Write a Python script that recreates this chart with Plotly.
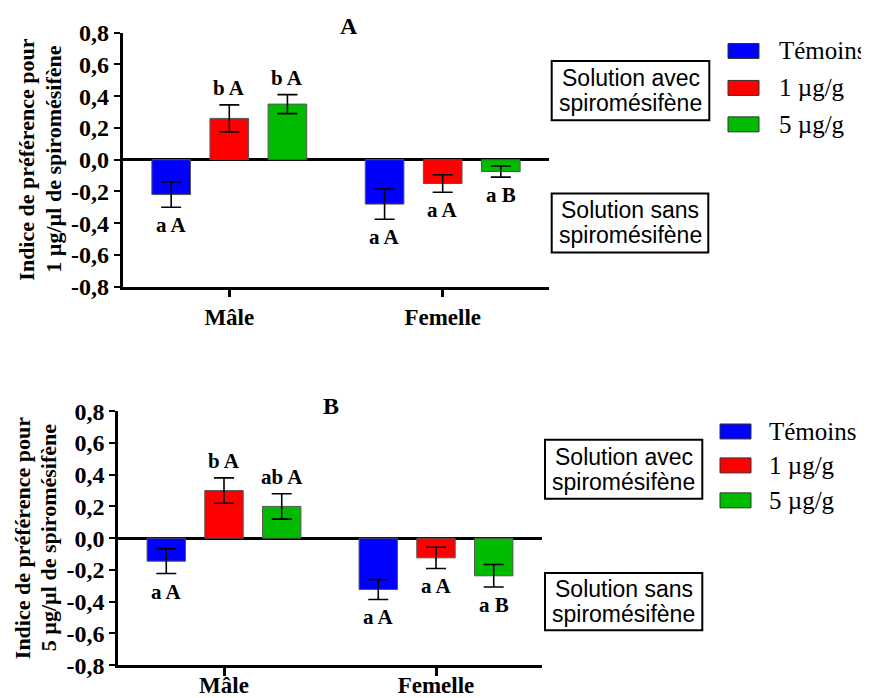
import plotly.graph_objects as go

W, H = 869, 698

categories = ["Mâle", "Femelle"]
series_names = ["Témoins", "1 µg/g", "5 µg/g"]
series_colors = ["#0000FF", "#FF0000", "#00BB00"]

# Panel A : 1 µg/µl
A_temoins = [-0.22, -0.28]
A_1ug = [0.26, -0.15]
A_5ug = [0.35, -0.075]
A_err_temoins = [0.08, 0.095]
A_err_1ug = [0.085, 0.055]
A_err_5ug = [0.06, 0.035]
A_lab_temoins = ["a A", "a A"]
A_lab_1ug = ["b A", "a A"]
A_lab_5ug = ["b A", "a B"]

# Panel B : 5 µg/µl
B_temoins = [-0.145, -0.323]
B_1ug = [0.30, -0.124]
B_5ug = [0.20, -0.237]
B_err_temoins = [0.078, 0.063]
B_err_1ug = [0.08, 0.067]
B_err_5ug = [0.08, 0.071]
B_lab_temoins = ["a A", "a A"]
B_lab_1ug = ["b A", "a A"]
B_lab_5ug = ["ab A", "a B"]

y_tickvals = [-0.8, -0.6, -0.4, -0.2, 0.0, 0.2, 0.4, 0.6, 0.8]
y_ticktext = ["-0,8", "-0,6", "-0,4", "-0,2", "0,0", "0,2", "0,4", "0,6", "0,8"]

titles = ["A", "B"]
ytitles = [["Indice de préférence pour", "1 µg/µl de spiromésifène"],
           ["Indice de préférence pour", "5 µg/µl de spiromésifène"]]
box_top = ["Solution avec", "spiromésifène"]
box_bot = ["Solution sans", "spiromésifène"]

SERIF = "Liberation Serif"
SANS = "Liberation Sans"
BARGAP = 0.183
BARGROUPGAP = 0.335

# page placement compensation (page px -> figure px)
OX, OY, SY = 8.0, 20.0, 0.964


def xp(px):
    return (px - OX) / W


def yp(py):
    return 1 - ((py - OY) / SY) / H


panels = [
    dict(vals=[A_temoins, A_1ug, A_5ug], errs=[A_err_temoins, A_err_1ug, A_err_5ug],
         labs=[A_lab_temoins, A_lab_1ug, A_lab_5ug],
         xdom=(122.6, 549.4), ydom=(31.7, 286.0),
         title_pos=(349, 25), ytitle_x=[27, 54],
         box1=(551.7, 60, 709.3, 119.3), box2=(551.7, 192.7, 708.3, 251.7),
         leg_sq_x=(728, 759), leg_y=[50, 87, 123.5], leg_tx=777),
    dict(vals=[B_temoins, B_1ug, B_5ug], errs=[B_err_temoins, B_err_1ug, B_err_5ug],
         labs=[B_lab_temoins, B_lab_1ug, B_lab_5ug],
         xdom=(118.0, 542.0), ydom=(410.7, 665.0),
         title_pos=(331, 405), ytitle_x=[22, 48],
         box1=(545, 439.3, 702.3, 498.3), box2=(545, 572.7, 702.3, 630),
         leg_sq_x=(720, 751), leg_y=[431, 465, 500], leg_tx=767),
]

fig = go.Figure()
annotations = []
shapes = []

for p_i, p in enumerate(panels):
    xa = "x" if p_i == 0 else "x2"
    ya = "y" if p_i == 0 else "y2"
    for s_i in range(3):
        fig.add_trace(go.Bar(
            x=categories, y=p["vals"][s_i], name=series_names[s_i],
            marker=dict(color=series_colors[s_i], line=dict(color="#555555", width=1)),
            error_y=dict(type="data", array=p["errs"][s_i], color="black",
                         thickness=1.6, width=10),
            xaxis=xa, yaxis=ya, showlegend=False,
        ))
    slot = (1 - BARGAP) / 3
    for s_i in range(3):
        for c_i in range(2):
            v = p["vals"][s_i][c_i]
            e = p["errs"][s_i][c_i]
            up = v >= 0
            annotations.append(dict(
                x=c_i + (s_i - 1) * slot, y=(v + e) if up else (v - e),
                xref=xa, yref=ya, text="<b>%s</b>" % p["labs"][s_i][c_i],
                showarrow=False, yanchor="middle", xanchor="center",
                yshift=16.5 if up else -18,
                font=dict(family=SERIF, size=21, color="black"),
            ))
    # panel title
    annotations.append(dict(x=xp(p["title_pos"][0]), y=yp(p["title_pos"][1]), xref="paper", yref="paper",
                            text="<b>%s</b>" % titles[p_i], showarrow=False,
                            xanchor="center", yanchor="middle",
                            font=dict(family=SERIF, size=24, color="black")))
    # y axis title (two lines)
    yc = (p["ydom"][0] + p["ydom"][1]) / 2
    for l_i, txt in enumerate(ytitles[p_i]):
        annotations.append(dict(x=xp(p["ytitle_x"][l_i]), y=yp(yc), xref="paper", yref="paper",
                                text="<b>%s</b>" % txt, showarrow=False, textangle=-90,
                                xanchor="center", yanchor="middle",
                                font=dict(family=SERIF, size=22, color="black")))
    # boxes
    for box, lines in ((p["box1"], box_top), (p["box2"], box_bot)):
        x0, y0, x1, y1 = box
        shapes.append(dict(type="rect", xref="paper", yref="paper",
                           x0=xp(x0), x1=xp(x1), y0=yp(y1), y1=yp(y0),
                           line=dict(color="black", width=2), fillcolor="white"))
        cx = (x0 + x1) / 2
        cy = (y0 + y1) / 2
        for l_i, txt in enumerate(lines):
            annotations.append(dict(x=xp(cx), y=yp(cy + (l_i - 0.5) * 25), xref="paper", yref="paper",
                                    text=txt, showarrow=False, xanchor="center", yanchor="middle",
                                    font=dict(family=SANS, size=23, color="black")))
    # legend
    for s_i in range(3):
        ly = p["leg_y"][s_i]
        shapes.append(dict(type="rect", xref="paper", yref="paper",
                           x0=xp(p["leg_sq_x"][0]), x1=xp(p["leg_sq_x"][1]),
                           y0=yp(ly + 7.5), y1=yp(ly - 7.5),
                           line=dict(color="#333333", width=1), fillcolor=series_colors[s_i]))
        annotations.append(dict(x=xp(p["leg_tx"]), y=yp(ly), xref="paper", yref="paper",
                                text=series_names[s_i], showarrow=False,
                                xanchor="left", yanchor="middle",
                                font=dict(family=SERIF, size=25, color="black")))

axis_common_x = dict(type="category", range=[-0.5, 1.5], showline=True, linecolor="black", linewidth=2.5,
                     ticks="outside", ticklen=8, tickwidth=2.5, tickcolor="black",
                     showgrid=False, zeroline=False,
                     tickfont=dict(family=SERIF, size=23, color="black"))
axis_common_y = dict(range=[-0.8, 0.8], showline=True, linecolor="black", linewidth=2.5,
                     ticks="outside", ticklen=6, tickwidth=2, tickcolor="black",
                     tickvals=y_tickvals, ticktext=["<b>%s</b>" % t for t in y_ticktext],
                     showgrid=False, zeroline=True, zerolinecolor="black", zerolinewidth=2.5,
                     ticklabelstandoff=0,
                     tickfont=dict(family=SERIF, size=24, color="black"))

xticktext = ["<b>%s</b>" % c for c in categories]

fig.update_layout(
    width=W, height=H,
    margin=dict(l=0, r=0, t=0, b=0),
    paper_bgcolor="white", plot_bgcolor="white",
    barmode="group", bargap=BARGAP, bargroupgap=BARGROUPGAP,
    xaxis=dict(**axis_common_x, domain=[xp(panels[0]["xdom"][0]), xp(panels[0]["xdom"][1])],
               anchor="y", tickvals=categories, ticktext=xticktext),
    yaxis=dict(**axis_common_y, domain=[yp(panels[0]["ydom"][1]), yp(panels[0]["ydom"][0])], anchor="x"),
    xaxis2=dict(**axis_common_x, domain=[xp(panels[1]["xdom"][0]), xp(panels[1]["xdom"][1])],
                anchor="y2", tickvals=categories, ticktext=xticktext, ticklabelstandoff=-11),
    yaxis2=dict(**axis_common_y, domain=[yp(panels[1]["ydom"][1]), yp(panels[1]["ydom"][0])], anchor="x2"),
    annotations=annotations,
    shapes=shapes,
    showlegend=False,
)

fig.write_html("out.html")
